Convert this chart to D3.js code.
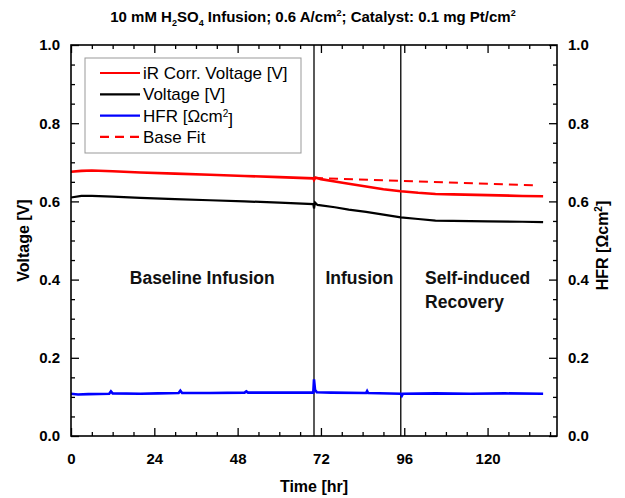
<!DOCTYPE html>
<html>
<head>
<meta charset="utf-8">
<script src="https://cdn.jsdelivr.net/npm/d3@7"></script>
<style>
  body { margin: 0; background: #fff; }
  text { font-family: Arial, "Liberation Sans", sans-serif; font-weight: bold; }
</style>
</head>
<body>
<div id="chart"></div>
<script>
// iR corrected voltage [V]
const irTime = [0, 3, 6, 12, 20, 30, 40, 50, 60, 69.8, 70, 70.4, 72, 76, 80, 85, 90, 95, 100, 105, 110, 120, 130, 136]
const irVolt = [0.676, 0.678, 0.679, 0.677, 0.674, 0.671, 0.668, 0.665, 0.662, 0.659, 0.655, 0.661, 0.657, 0.651, 0.645, 0.638, 0.631, 0.626, 0.622, 0.619, 0.618, 0.616, 0.614, 0.613]

// cell voltage [V]
const vTime = [0, 3, 6, 12, 20, 30, 40, 50, 60, 69.8, 70, 70.3, 71, 76, 80, 85, 90, 95, 100, 105, 110, 120, 130, 136]
const vVolt = [0.610, 0.614, 0.614, 0.612, 0.609, 0.606, 0.603, 0.600, 0.597, 0.593, 0.582, 0.597, 0.591, 0.585, 0.579, 0.573, 0.566, 0.559, 0.555, 0.551, 0.550, 0.549, 0.548, 0.547]

// HFR [ohm cm2]
const hfrTime = [0, 2, 5, 11, 11.5, 12, 20, 25, 31, 31.5, 32, 40, 50, 50.5, 51, 60, 69.8, 70, 70.3, 70.8, 75, 85, 85.3, 85.6, 95, 95.3, 95.6, 105, 115, 125, 136]
const hfrVal = [0.108, 0.106, 0.107, 0.108, 0.114, 0.109, 0.108, 0.109, 0.110, 0.116, 0.110, 0.110, 0.111, 0.114, 0.111, 0.111, 0.111, 0.145, 0.118, 0.112, 0.111, 0.110, 0.115, 0.110, 0.108, 0.103, 0.108, 0.109, 0.108, 0.109, 0.108]

// base fit (dashed)
const fitTime = [70, 134]
const fitVolt = [0.660, 0.641]

const phaseLines = [70, 95]
const xTicks = [0, 24, 48, 72, 96, 120]
const yTicks = [0, 0.2, 0.4, 0.6, 0.8, 1.0]

const legendItems = [
    {label: "iR Corr. Voltage [V]", color: "#ff0000", dash: null},
    {label: "Voltage [V]", color: "#000000", dash: null},
    {label: "HFR [\u03A9cm", sup: "2", tail: "]", color: "#0000ff", dash: null},
    {label: "Base Fit", color: "#ff0000", dash: "9,6"}
]

const width = 625, height = 498
const margin = {top: 45, right: 68, bottom: 62, left: 71}
const innerW = width - margin.left - margin.right
const innerH = height - margin.top - margin.bottom

const svg = d3.select("#chart").append("svg")
    .attr("width", width)
    .attr("height", height)

const g = svg.append("g")
    .attr("transform", `translate(${margin.left},${margin.top})`)

const x = d3.scaleLinear().domain([0, 140]).range([0, innerW])
const y = d3.scaleLinear().domain([0, 1]).range([innerH, 0])
const y2 = d3.scaleLinear().domain([0, 1]).range([innerH, 0])

const zip = (a, b) => a.map((t, i) => [t, b[i]])
const line = d3.line().x(d => x(d[0])).y(d => y(d[1]))
const line2 = d3.line().x(d => x(d[0])).y(d => y2(d[1]))

// phase separators
g.selectAll(".phase")
    .data(phaseLines)
    .join("line")
    .attr("x1", d => x(d)).attr("x2", d => x(d))
    .attr("y1", 0).attr("y2", innerH)
    .attr("stroke", "#000").attr("stroke-width", 1.3)

// series
g.append("path").datum(zip(hfrTime, hfrVal))
    .attr("d", line2).attr("fill", "none")
    .attr("stroke", "#0000ff").attr("stroke-width", 2.6)

g.append("path").datum(zip(vTime, vVolt))
    .attr("d", line).attr("fill", "none")
    .attr("stroke", "#000").attr("stroke-width", 2.2)

g.append("path").datum(zip(irTime, irVolt))
    .attr("d", line).attr("fill", "none")
    .attr("stroke", "#ff0000").attr("stroke-width", 2.6)

g.append("path").datum(zip(fitTime, fitVolt))
    .attr("d", line).attr("fill", "none")
    .attr("stroke", "#ff0000").attr("stroke-width", 2)
    .attr("stroke-dasharray", "9,6")

// axes: major + minor ticks, all pointing inward
const minorX = d3.range(0, 141, 6).filter(v => v % 24 !== 0)
const minorY = d3.range(0, 21).map(v => v * 0.05).filter(v => Math.round(v * 100) % 20 !== 0)

function styleAxis(sel) {
    sel.select(".domain").remove()
    sel.selectAll(".tick line").attr("stroke", "#000").attr("stroke-width", 1.3)
    sel.selectAll("text").style("font-size", "15px").attr("fill", "#000")
}

const bottomAxis = g.append("g").attr("transform", `translate(0,${innerH})`)
bottomAxis.append("g").call(d3.axisBottom(x).tickValues(xTicks).tickSize(-8).tickPadding(17)).call(styleAxis)
bottomAxis.append("g").call(d3.axisBottom(x).tickValues(minorX).tickSize(-4).tickFormat("")).call(styleAxis)

const topAxis = g.append("g")
topAxis.append("g").call(d3.axisTop(x).tickValues(xTicks).tickSize(-8).tickFormat("")).call(styleAxis)
topAxis.append("g").call(d3.axisTop(x).tickValues(minorX).tickSize(-4).tickFormat("")).call(styleAxis)

const leftAxis = g.append("g")
leftAxis.append("g").call(d3.axisLeft(y).tickValues(yTicks).tickSize(-8).tickPadding(11).tickFormat(d3.format(".1f"))).call(styleAxis)
leftAxis.append("g").call(d3.axisLeft(y).tickValues(minorY).tickSize(-4).tickFormat("")).call(styleAxis)

const rightAxis = g.append("g").attr("transform", `translate(${innerW},0)`)
rightAxis.append("g").call(d3.axisRight(y2).tickValues(yTicks).tickSize(-8).tickPadding(11).tickFormat(d3.format(".1f"))).call(styleAxis)
rightAxis.append("g").call(d3.axisRight(y2).tickValues(minorY).tickSize(-4).tickFormat("")).call(styleAxis)

// frame
g.append("rect")
    .attr("width", innerW).attr("height", innerH)
    .attr("fill", "none").attr("stroke", "#000").attr("stroke-width", 1.6)

// phase labels
const labelStyle = s => s.style("font-size", "17.5px").attr("fill", "#111")
g.append("text").attr("x", x(37.8)).attr("y", y(0.39)).attr("text-anchor", "middle").text("Baseline Infusion").call(labelStyle)
g.append("text").attr("x", x(83.1)).attr("y", y(0.39)).attr("text-anchor", "middle").text("Infusion").call(labelStyle)
g.append("text").attr("x", x(102)).attr("y", y(0.39)).text("Self-induced").call(labelStyle)
g.append("text").attr("x", x(102)).attr("y", y(0.327)).text("Recovery").call(labelStyle)

// legend
const legend = g.append("g").attr("transform", "translate(14,13)")
legend.append("rect")
    .attr("width", 216).attr("height", 95)
    .attr("fill", "#fff").attr("stroke", "#999").attr("stroke-width", 1)
legendItems.forEach((d, i) => {
    const row = legend.append("g").attr("transform", `translate(0,${15 + i * 21.3})`)
    row.append("line")
        .attr("x1", 15).attr("x2", 55)
        .attr("stroke", d.color).attr("stroke-width", 2.2)
        .attr("stroke-dasharray", d.dash)
    const t = row.append("text").attr("x", 58).attr("dy", "0.35em")
        .style("font-size", "17px").style("font-weight", "normal").attr("fill", "#000")
    t.append("tspan").text(d.label)
    if (d.sup) {
        t.append("tspan").attr("dy", "-0.45em").style("font-size", "10px").text(d.sup)
        t.append("tspan").attr("dy", "0.45em").text(d.tail)
    }
})

// title
const title = svg.append("text")
    .attr("x", 313).attr("y", 22)
    .attr("text-anchor", "middle")
    .style("font-size", "15px")
title.append("tspan").text("10 mM H")
title.append("tspan").attr("dy", 4).style("font-size", "9px").text("2")
title.append("tspan").attr("dy", -4).text("SO")
title.append("tspan").attr("dy", 4).style("font-size", "9px").text("4")
title.append("tspan").attr("dy", -4).text(" Infusion; 0.6 A/cm")
title.append("tspan").attr("dy", -6).style("font-size", "9px").text("2")
title.append("tspan").attr("dy", 6).text("; Catalyst: 0.1 mg Pt/cm")
title.append("tspan").attr("dy", -6).style("font-size", "9px").text("2")

// axis titles
svg.append("text")
    .attr("x", margin.left + innerW / 2).attr("y", 492)
    .attr("text-anchor", "middle").style("font-size", "16px")
    .text("Time [hr]")

svg.append("text")
    .attr("transform", `translate(29,${margin.top + innerH / 2}) rotate(-90)`)
    .attr("text-anchor", "middle").style("font-size", "16px")
    .text("Voltage [V]")

const hfrTitle = svg.append("text")
    .attr("transform", `translate(608,${margin.top + innerH / 2 + 5}) rotate(-90)`)
    .attr("text-anchor", "middle").style("font-size", "16px")
hfrTitle.append("tspan").text("HFR [\u03A9cm")
hfrTitle.append("tspan").attr("dy", -6).style("font-size", "10px").text("2")
hfrTitle.append("tspan").attr("dy", 6).text("]")
</script>
</body>
</html>
